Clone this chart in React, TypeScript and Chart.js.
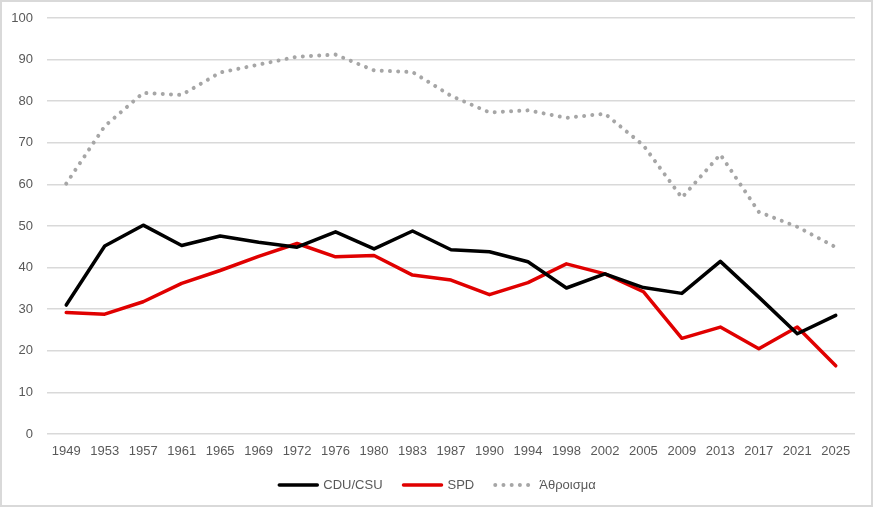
import React, { useEffect, useRef } from "react";
import { Chart, registerables } from "chart.js";
Chart.register(...registerables);

const years = ["1949","1953","1957","1961","1965","1969","1972","1976","1980","1983","1987","1990","1994","1998","2002","2005","2009","2013","2017","2021","2025"];
const cduCsu = [31.0,45.2,50.2,45.3,47.6,46.1,44.9,48.6,44.5,48.8,44.3,43.8,41.4,35.1,38.5,35.2,33.8,41.5,32.9,24.1,28.5];
const spd = [29.2,28.8,31.8,36.2,39.3,42.7,45.8,42.6,42.9,38.2,37.0,33.5,36.4,40.9,38.5,34.2,23.0,25.7,20.5,25.7,16.4];
const total = [60.2,74.0,82.0,81.5,86.9,88.8,90.7,91.2,87.4,87.0,81.3,77.3,77.8,76.0,77.0,69.4,56.8,67.2,53.4,49.8,44.9];
const labelsSeries = ["CDU/CSU", "SPD", "Άθροισμα"];

const FONT = "'Liberation Sans', Arial, sans-serif";

export default function App() {
  const ref = useRef<HTMLCanvasElement>(null);
  useEffect(() => {
    document.body.style.margin = "0";
    const borderPlugin = {
      id: "outerBorder",
      beforeDraw(chart: any) {
        const c = chart.ctx;
        c.save();
        c.fillStyle = "#ffffff";
        c.fillRect(0, 0, chart.width, chart.height);
        c.strokeStyle = "#d9d9d9";
        c.lineWidth = 2;
        c.strokeRect(1, 1, chart.width - 2, chart.height - 3);
        c.restore();
      },
    };
    const legendPlugin = {
      id: "customLegend",
      afterDraw(chart: any) {
        const c = chart.ctx;
        c.save();
        c.font = `13px ${FONT}`;
        c.textBaseline = "middle";
        const lineW = 42, gapText = 4, gapItem = 19;
        const ds = chart.data.datasets;
        const widths = ds.map((d: any) => lineW + gapText + c.measureText(d.label).width);
        const total = widths.reduce((a: number, b: number) => a + b, 0) + gapItem * (ds.length - 1);
        let x = (chart.width - total) / 2;
        const y = 485;
        ds.forEach((d: any, i: number) => {
          c.beginPath();
          c.strokeStyle = d.borderColor;
          c.lineWidth = d.borderWidth;
          c.lineCap = "round";
          c.setLineDash(d.borderDash || []);
          c.moveTo(x + 2, y);
          c.lineTo(x + lineW - 2, y);
          c.stroke();
          c.setLineDash([]);
          c.fillStyle = "#595959";
          c.fillText(d.label, x + lineW + gapText, y);
          x += widths[i] + gapItem;
        });
        c.restore();
      },
    };
    const chart = new Chart(ref.current!, {
      type: "line",
      data: {
        labels: years,
        datasets: [
          { label: labelsSeries[0], data: cduCsu, borderColor: "#000000", backgroundColor: "#000000", borderWidth: 3.5, pointRadius: 0, tension: 0, borderCapStyle: "round", borderJoinStyle: "round" },
          { label: labelsSeries[1], data: spd, borderColor: "#e00000", backgroundColor: "#e00000", borderWidth: 3.5, pointRadius: 0, tension: 0, borderCapStyle: "round", borderJoinStyle: "round" },
          { label: labelsSeries[2], data: total, borderColor: "#a6a6a6", backgroundColor: "#a6a6a6", borderWidth: 4, pointRadius: 0, tension: 0, borderDash: [0.01, 8.2], borderCapStyle: "round", borderJoinStyle: "round" },
        ],
      },
      options: {
        animation: false,
        responsive: false,
        devicePixelRatio: 1,
        layout: { padding: { left: 0, right: 18, top: 18, bottom: 42 } },
        scales: {
          x: {
            offset: true,
            grid: { display: false, drawTicks: false },
            border: { display: false },
            ticks: { color: "#595959", font: { family: FONT, size: 13 }, padding: 10, maxRotation: 0, autoSkip: false },
            afterFit(scale: any) { scale.height = 32; scale.paddingLeft = 0; scale.paddingRight = 0; },
          },
          y: {
            min: 0,
            max: 100,
            ticks: { stepSize: 10, color: "#595959", font: { family: FONT, size: 13 }, padding: 14 },
            grid: { color: "#d9d9d9", lineWidth: 1.5, drawTicks: false },
            border: { display: false },
            afterFit(scale: any) { scale.width = 47; scale.paddingTop = 0; scale.paddingBottom = 0; },
          },
        },
        plugins: {
          legend: { display: false },
          tooltip: { enabled: false },
        },
      },
      plugins: [borderPlugin, legendPlugin],
    } as any);
    return () => chart.destroy();
  }, []);
  return <canvas ref={ref} width={873} height={508} style={{ display: "block" }} />;
}
